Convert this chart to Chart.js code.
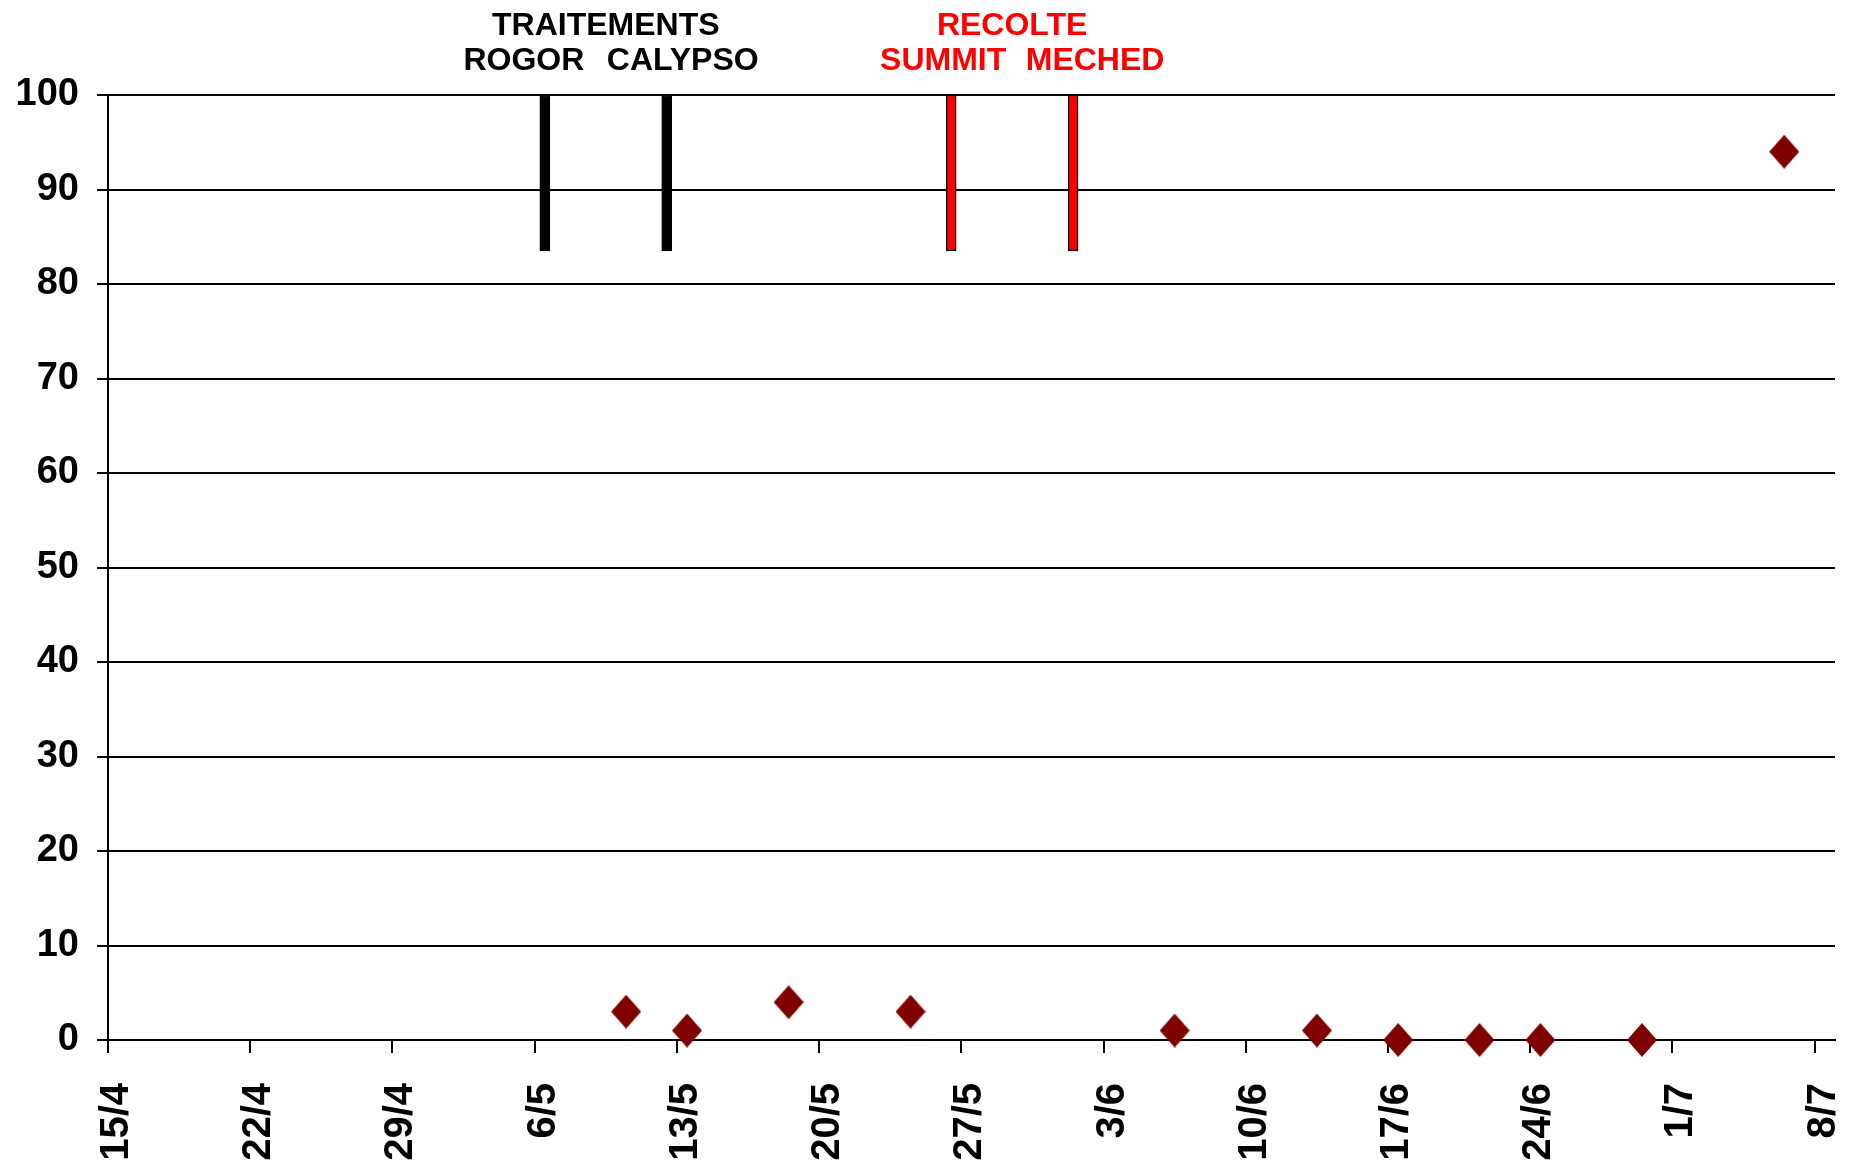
<!DOCTYPE html>
<html>
<head>
<meta charset="utf-8">
<script src="https://cdn.jsdelivr.net/npm/chart.js@4.4.0/dist/chart.umd.min.js"></script>
<style>
  body { margin: 0; background: #fff; }
  #wrap { width: 1854px; height: 1163px; }
</style>
</head>
<body>
<div id="wrap"><canvas id="graph"></canvas></div>
<script>
// axe des dates : jours comptés depuis le 15/4, un repère chaque semaine
const dateLabels = ['15/4', '22/4', '29/4', '6/5', '13/5', '20/5', '27/5', '3/6', '10/6', '17/6', '24/6', '1/7', '8/7'];

// relevés (% ) aux jours d'observation
const obsDays = [25.5, 28.5, 33.5, 39.5, 52.5, 59.5, 63.5, 67.5, 70.5, 75.5, 82.5];
const obsValues = [3, 1, 4, 3, 1, 1, 0, 0, 0, 0, 94];

// interventions : traitements puis récoltes
const groupTitles = ['TRAITEMENTS', 'RECOLTE'];
const eventNames = ['ROGOR', 'CALYPSO', 'SUMMIT', 'MECHED'];
const eventDays = [21.5, 27.5, 41.5, 47.5];
const eventFrom = 83.5;
const eventTo = 100;

const font = '"Liberation Sans", Arial, sans-serif';
const groupColors = ['#000000', '#ff0000'];

// losange un peu plus haut que large, comme dans Excel
function diamond(w, h, color) {
  const c = document.createElement('canvas');
  c.width = w;
  c.height = h;
  const g = c.getContext('2d');
  g.fillStyle = color;
  g.beginPath();
  g.moveTo(w / 2, 0);
  g.lineTo(w, h / 2);
  g.lineTo(w / 2, h);
  g.lineTo(0, h / 2);
  g.closePath();
  g.fill();
  return c;
}

// textes au-dessus des barres
const eventLabels = {
  id: 'eventLabels',
  afterDraw(chart) {
    const ctx = chart.ctx;
    const xs = chart.scales.x;
    ctx.save();
    ctx.font = 'bold 32px ' + font;
    ctx.textAlign = 'center';
    ctx.textBaseline = 'middle';
    groupTitles.forEach((t, i) => {
      const mid = (xs.getPixelForValue(eventDays[2 * i]) + xs.getPixelForValue(eventDays[2 * i + 1])) / 2;
      ctx.fillStyle = groupColors[i];
      ctx.fillText(t, mid, 26);
    });
    const nudge = [-21, 16, -8, 22];
    eventNames.forEach((n, i) => {
      ctx.fillStyle = groupColors[Math.floor(i / 2)];
      ctx.fillText(n, xs.getPixelForValue(eventDays[i]) + nudge[i], 61);
    });
    ctx.restore();
  }
};

const ctx = document.getElementById('graph').getContext('2d');
new Chart(ctx, {
  type: 'scatter',
  data: {
    datasets: [
      {
        type: 'bar',
        data: eventDays.map(d => ({ x: d, y: [eventFrom, eventTo] })),
        backgroundColor: ['#000000', '#000000', '#ff0000', '#ff0000'],
        borderColor: '#000000',
        borderWidth: 1.5,
        borderSkipped: false,
        barThickness: 10
      },
      {
        data: obsDays.map((d, i) => ({ x: d, y: obsValues[i] })),
        pointStyle: diamond(30, 34, '#800000'),
        pointRadius: 15,
        clip: false
      }
    ]
  },
  options: {
    responsive: true,
    maintainAspectRatio: false,
    animation: false,
    layout: { padding: { top: 95, right: 19, left: 0, bottom: 0 } },
    plugins: {
      legend: { display: false },
      tooltip: { enabled: false }
    },
    scales: {
      x: {
        type: 'linear',
        min: 0,
        max: 85,
        offset: false,
        grid: { display: true, drawOnChartArea: false, offset: false, color: '#000', lineWidth: 2, tickLength: 13 },
        border: { display: true, color: '#000', width: 2 },
        ticks: {
          stepSize: 7,
          includeBounds: false,
          autoSkip: false,
          minRotation: 90,
          maxRotation: 90,
          padding: 30,
          labelOffset: 9,
          color: '#000',
          font: { family: font, size: 40, weight: 'bold' },
          callback: v => dateLabels[v / 7]
        },
        afterFit: s => {
          s.height = 123;
          s.paddingLeft = 0;
          s.paddingRight = 0;
        }
      },
      y: {
        min: 0,
        max: 100,
        grid: { color: '#000', lineWidth: 2, tickLength: 11 },
        border: { display: true, color: '#000', width: 2 },
        ticks: {
          stepSize: 10,
          padding: 18,
          color: '#000',
          font: { family: font, size: 38, weight: 'bold' }
        },
        afterFit: s => { s.width = 108; }
      }
    }
  },
  plugins: [eventLabels]
});
</script>
</body>
</html>
